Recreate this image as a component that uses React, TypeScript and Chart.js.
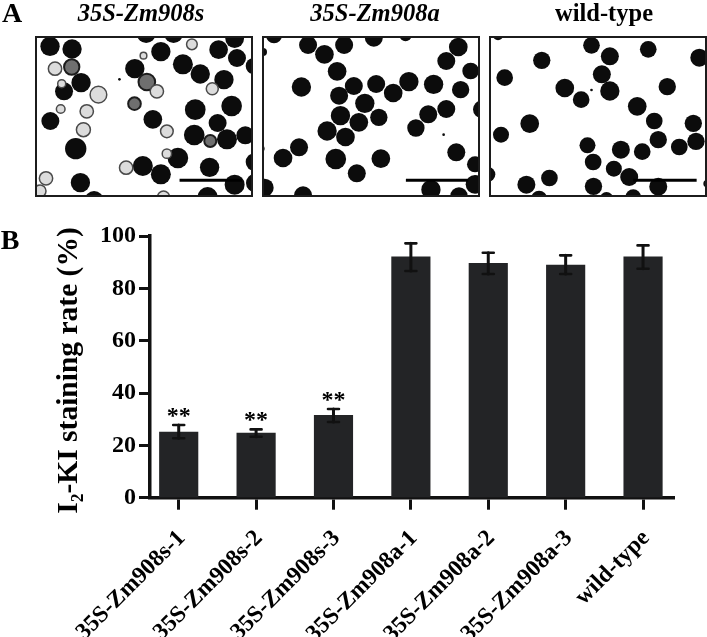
import React, { useEffect, useRef } from "react";
import { Chart, registerables } from "chart.js";

Chart.register(...registerables);

const SERIF = "'Liberation Serif', serif";

// ---------- panel B values ----------
const categories = ["35S-Zm908s-1", "35S-Zm908s-2", "35S-Zm908s-3", "35S-Zm908a-1", "35S-Zm908a-2", "35S-Zm908a-3", "wild-type"];
const stainingRate = [25.1, 24.7, 31.5, 92, 89.6, 88.9, 92];
const errorUpper = [27.8, 26.1, 33.9, 97.2, 93.6, 92.6, 96.4];
const errorLower = [22.7, 23.3, 28.9, 86.6, 85.5, 85.5, 87.5];
const significance = ["**", "**", "**", "", "", "", ""];
const yTicks = [0, 20, 40, 60, 80, 100];

// ---------- panel A grains: [x, y, r] ----------
const s_dark = [[150,138,29],[216,146,29],[482,154,29],[548,192,30],[600,221,29],[655,148,28],[710,173,27],[703,115,28],[760,197,24],[404,205,29],[671,238,29],[243,247,29],[192,273,27],[151,362,27],[458,357,28],[585,328,31],[694,317,31],[652,368,27],[582,404,31],[680,417,30],[735,405,27],[227,445,32],[533,473,31],[428,497,30],[482,522,30],[628,501,29],[241,547,29],[703,553,30],[762,485,26],[765,548,28],[622,590,30],[282,600,28],[438,100,28],[520,100,28],[378,610,24],[358,237,4]];
const s_mid = [[215,200,23],[440,245,25],[403,310,19],[630,422,18]];
const s_pale = [[165,205,20],[295,283,25],[260,333,20],[250,388,21],[182,326,13],[185,250,12],[470,273,20],[500,393,19],[636,265,18],[575,132,16],[430,166,10],[378,502,20],[500,460,14],[138,534,20],[120,572,18],[490,590,18]];
const a_dark = [[58,105,24],[160,134,27],[209,162,28],[268,134,27],[357,112,27],[452,105,18],[610,140,28],[574,182,27],[647,212,25],[25,155,12],[247,213,28],[140,260,29],[297,257,27],[253,286,27],[364,251,27],[415,278,28],[462,244,29],[536,252,29],[617,268,26],[330,309,29],[257,346,29],[372,351,26],[312,366,28],[217,392,29],[272,410,28],[520,342,27],[574,326,27],[483,383,26],[680,327,26],[133,441,27],[85,473,28],[243,476,31],[378,475,28],[306,519,27],[604,456,27],[660,492,24],[660,552,28],[528,568,29],[612,587,26],[145,585,27],[30,562,27],[452,600,16],[22,445,8],[566,403,4]];
const w_dark = [[335,135,25],[505,147,25],[390,168,27],[186,180,26],[658,172,27],[366,222,27],[75,232,25],[255,263,28],[562,259,26],[390,272,29],[304,298,25],[472,318,28],[523,362,25],[150,370,28],[640,369,26],[64,403,24],[535,418,26],[648,423,26],[598,440,25],[323,435,24],[423,448,27],[487,454,25],[340,485,25],[402,505,24],[448,530,27],[209,533,25],[140,553,27],[341,558,26],[535,559,27],[460,590,23],[178,595,24],[25,522,22],[680,550,10],[55,105,15],[380,595,20],[335,269,4]];
const s_bar = [[538,540],[725,540]];
const a_bar = [[453,540],[640,540]];
const w_bar = [[460,540],[650,540]];

function toBubbles(rows: number[][]) {
  return rows.map(([x, y, r]) => ({ x, y, r: r / 3 }));
}

function Micrograph(p: { left: number; width: number; xMin: number; xMax: number; dark: number[][]; mid?: number[][]; pale?: number[][]; bar: number[][] }) {
  const ref = useRef<HTMLCanvasElement>(null);
  useEffect(() => {
    const chart = new Chart(ref.current!, {
      type: "bubble",
      data: {
        datasets: [
          { type: "line", data: p.bar.map(([x, y]) => ({ x, y })), borderColor: "#000", borderWidth: 3, pointRadius: 0, order: 0 } as any,
          { data: toBubbles(p.dark), backgroundColor: "#0c0c0c", borderWidth: 0, order: 3 },
          { data: toBubbles(p.mid ?? []), backgroundColor: "#6f6f6f", borderColor: "#1c1c1c", borderWidth: 2, order: 2 },
          { data: toBubbles(p.pale ?? []), backgroundColor: "#dcdcdc", borderColor: "#4a4a4a", borderWidth: 1.5, order: 1 },
        ],
      },
      options: {
        responsive: false,
        animation: false,
        events: [],
        layout: { padding: 0, autoPadding: false },
        plugins: { legend: { display: false }, tooltip: { enabled: false } },
        scales: {
          x: { type: "linear", display: false, min: p.xMin, max: p.xMax },
          y: { type: "linear", display: false, min: 110, max: 587, reverse: true },
        },
      },
    });
    return () => chart.destroy();
  }, []);
  return (
    <canvas
      ref={ref}
      width={p.width}
      height={159}
      style={{ position: "absolute", left: p.left, top: 37, width: p.width, height: 159, outline: "2px solid #1c1c1c", outlineOffset: -1, display: "block" }}
    />
  );
}

const errorBarPlugin = {
  id: "errorBars",
  afterDatasetsDraw(chart: any) {
    const { ctx, scales } = chart;
    ctx.save();
    ctx.strokeStyle = "#111";
    ctx.fillStyle = "#111";
    ctx.lineCap = "round";
    categories.forEach((_, i) => {
      const x = scales.x.getPixelForValue(i);
      const hi = scales.y.getPixelForValue(errorUpper[i]);
      const lo = scales.y.getPixelForValue(errorLower[i]);
      ctx.lineWidth = 3;
      ctx.beginPath();
      ctx.moveTo(x, hi);
      ctx.lineTo(x, lo);
      ctx.stroke();
      ctx.lineWidth = 2.6;
      ctx.beginPath();
      ctx.moveTo(x - 5.5, hi);
      ctx.lineTo(x + 5.5, hi);
      ctx.moveTo(x - 5.5, lo);
      ctx.lineTo(x + 5.5, lo);
      ctx.stroke();
      if (significance[i]) {
        ctx.font = `bold 24px ${SERIF}`;
        ctx.textAlign = "center";
        ctx.textBaseline = "alphabetic";
        ctx.fillStyle = "#000";
        ctx.fillText(significance[i], x, hi - 2);
      }
    });
    ctx.restore();
  },
};

function BarPanel() {
  const ref = useRef<HTMLCanvasElement>(null);
  useEffect(() => {
    const chart = new Chart(ref.current!, {
      type: "bar",
      data: {
        datasets: [
          {
            data: stainingRate.map((y, x) => ({ x, y })),
            backgroundColor: "#232426",
            borderWidth: 0,
            barThickness: 38.5,
          },
        ],
      },
      options: {
        responsive: false,
        animation: false,
        events: [],
        layout: { padding: { top: 236, right: 33, left: 0, bottom: 0 } },
        plugins: { legend: { display: false }, tooltip: { enabled: false } },
        scales: {
          x: {
            type: "linear",
            offset: false,
            min: -0.371,
            max: 6.4,
            afterBuildTicks: (s: any) => { s.ticks = categories.map((_, value) => ({ value })); },
            afterFit: (s: any) => { s.height = 139.3; },
            border: { display: true, color: "#111", width: 3.5 },
            grid: { offset: false, drawOnChartArea: false, drawTicks: true, tickLength: 12, tickColor: "#111", tickWidth: 3 },
            ticks: {
              autoSkip: false,
              maxRotation: 45,
              minRotation: 45,
              padding: 15,
              labelOffset: 3,
              color: "#000",
              font: { family: SERIF, size: 23.5, weight: "bold" },
              callback: (v: any) => categories[v] ?? "",
            },
          },
          y: {
            type: "linear",
            min: 0,
            max: 100,
            afterBuildTicks: (s: any) => { s.ticks = yTicks.map((value) => ({ value })); },
            afterFit: (s: any) => { s.width = 150; },
            border: { display: true, color: "#111", width: 3.5 },
            grid: { drawOnChartArea: false, drawTicks: true, tickLength: 11, tickColor: "#111", tickWidth: 3 },
            ticks: { padding: 3, color: "#000", font: { family: SERIF, size: 24, weight: "bold" } },
            title: {
              display: true,
              text: "I₂-KI staining rate (%) ",
              color: "#000",
              font: { family: SERIF, size: 29.5, weight: "bold" },
              padding: { top: 52, bottom: 0 },
            },
          },
        },
      },
      plugins: [errorBarPlugin],
    });
    return () => chart.destroy();
  }, []);
  return <canvas ref={ref} width={707} height={637} style={{ position: "absolute", left: 0, top: 0, display: "block" }} />;
}

function Label(p: { text: string; x: number; y: number; size: number; italic?: boolean }) {
  return (
    <div
      style={{
        position: "absolute",
        left: p.x,
        top: p.y,
        transform: "translateX(-50%)",
        whiteSpace: "nowrap",
        fontFamily: SERIF,
        fontWeight: "bold",
        fontStyle: p.italic ? "italic" : "normal",
        fontSize: p.size,
        lineHeight: 1,
        color: "#000",
      }}
    >
      {p.text}
    </div>
  );
}

export default function App() {
  return (
    <div style={{ position: "absolute", left: 0, top: 0, width: 707, height: 637, overflow: "hidden", background: "#fff", filter: "blur(0.45px)" }}>
      <BarPanel />
      <Micrograph left={36} width={216} xMin={108} xMax={755} dark={s_dark} mid={s_mid} pale={s_pale} bar={s_bar} />
      <Micrograph left={263} width={216} xMin={25} xMax={672} dark={a_dark} bar={a_bar} />
      <Micrograph left={490} width={216} xMin={31} xMax={678} dark={w_dark} bar={w_bar} />
      <Label text="A" x={12} y={-1} size={28} />
      <Label text="B" x={10} y={226} size={28} />
      <Label text="35S-Zm908s" x={141} y={1} size={24.5} italic />
      <Label text="35S-Zm908a" x={375} y={1} size={24.5} italic />
      <Label text="wild-type" x={604} y={1} size={24.5} />
    </div>
  );
}
